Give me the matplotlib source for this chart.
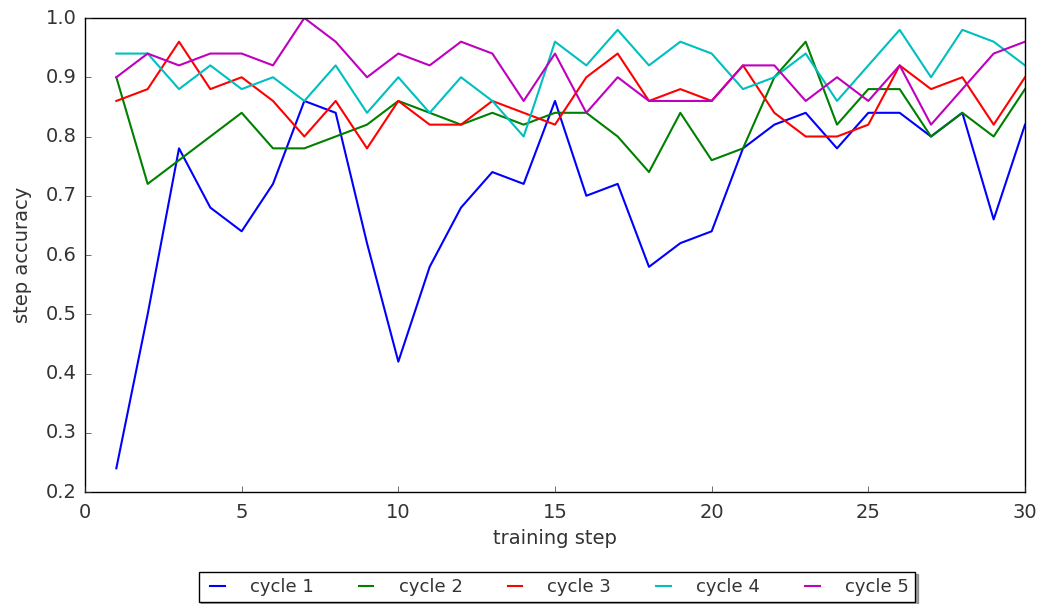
import numpy as np
import matplotlib
matplotlib.use('Agg')
import matplotlib.pyplot as plt

plt.style.use('classic')

# step index and accuracy per cycle
steps = np.arange(1, 31)
cycle1 = [0.24, 0.50, 0.78, 0.68, 0.64, 0.72, 0.86, 0.84, 0.62, 0.42,
          0.58, 0.68, 0.74, 0.72, 0.86, 0.70, 0.72, 0.58, 0.62, 0.64,
          0.78, 0.82, 0.84, 0.78, 0.84, 0.84, 0.80, 0.84, 0.66, 0.82]
cycle2 = [0.90, 0.72, 0.76, 0.80, 0.84, 0.78, 0.78, 0.80, 0.82, 0.86,
          0.84, 0.82, 0.84, 0.82, 0.84, 0.84, 0.80, 0.74, 0.84, 0.76,
          0.78, 0.90, 0.96, 0.82, 0.88, 0.88, 0.80, 0.84, 0.80, 0.88]
cycle3 = [0.86, 0.88, 0.96, 0.88, 0.90, 0.86, 0.80, 0.86, 0.78, 0.86,
          0.82, 0.82, 0.86, 0.84, 0.82, 0.90, 0.94, 0.86, 0.88, 0.86,
          0.92, 0.84, 0.80, 0.80, 0.82, 0.92, 0.88, 0.90, 0.82, 0.90]
cycle4 = [0.94, 0.94, 0.88, 0.92, 0.88, 0.90, 0.86, 0.92, 0.84, 0.90,
          0.84, 0.90, 0.86, 0.80, 0.96, 0.92, 0.98, 0.92, 0.96, 0.94,
          0.88, 0.90, 0.94, 0.86, 0.92, 0.98, 0.90, 0.98, 0.96, 0.92]
cycle5 = [0.90, 0.94, 0.92, 0.94, 0.94, 0.92, 1.00, 0.96, 0.90, 0.94,
          0.92, 0.96, 0.94, 0.86, 0.94, 0.84, 0.90, 0.86, 0.86, 0.86,
          0.92, 0.92, 0.86, 0.90, 0.86, 0.92, 0.82, 0.88, 0.94, 0.96]
labels = ['cycle 1', 'cycle 2', 'cycle 3', 'cycle 4', 'cycle 5']

txt = '#333333'
fig = plt.figure(figsize=(10.39, 6.04), dpi=100, facecolor='white')
ax = fig.add_axes([85 / 1039, 1 - 492 / 604, 940 / 1039, 474 / 604])

for y, lab in zip([cycle1, cycle2, cycle3, cycle4, cycle5], labels):
    ax.plot(steps, y, linewidth=1.5, label=lab)

ax.set_xlim(0, 30)
ax.set_ylim(0.2, 1.0)
ax.set_xticks(np.arange(0, 31, 5))
ax.set_yticks(np.arange(0.2, 1.01, 0.1))
ax.tick_params(labelsize=14, colors=txt, labelcolor=txt, top=False, right=False)
ax.tick_params(axis='x', pad=8)
ax.tick_params(axis='y', pad=6)
ax.set_xlabel('training step', fontsize=14, color=txt)
ax.set_ylabel('step accuracy', fontsize=14, color=txt, labelpad=10)

leg = fig.legend(loc='lower center', bbox_to_anchor=(0.536, -0.012), ncol=5,
                 fontsize=13, shadow=True, handlelength=1.4, handletextpad=1.1,
                 columnspacing=2.2, borderpad=0.35)
for t in leg.get_texts():
    t.set_color(txt)

fig.savefig('out.png', dpi=100, facecolor='white')
